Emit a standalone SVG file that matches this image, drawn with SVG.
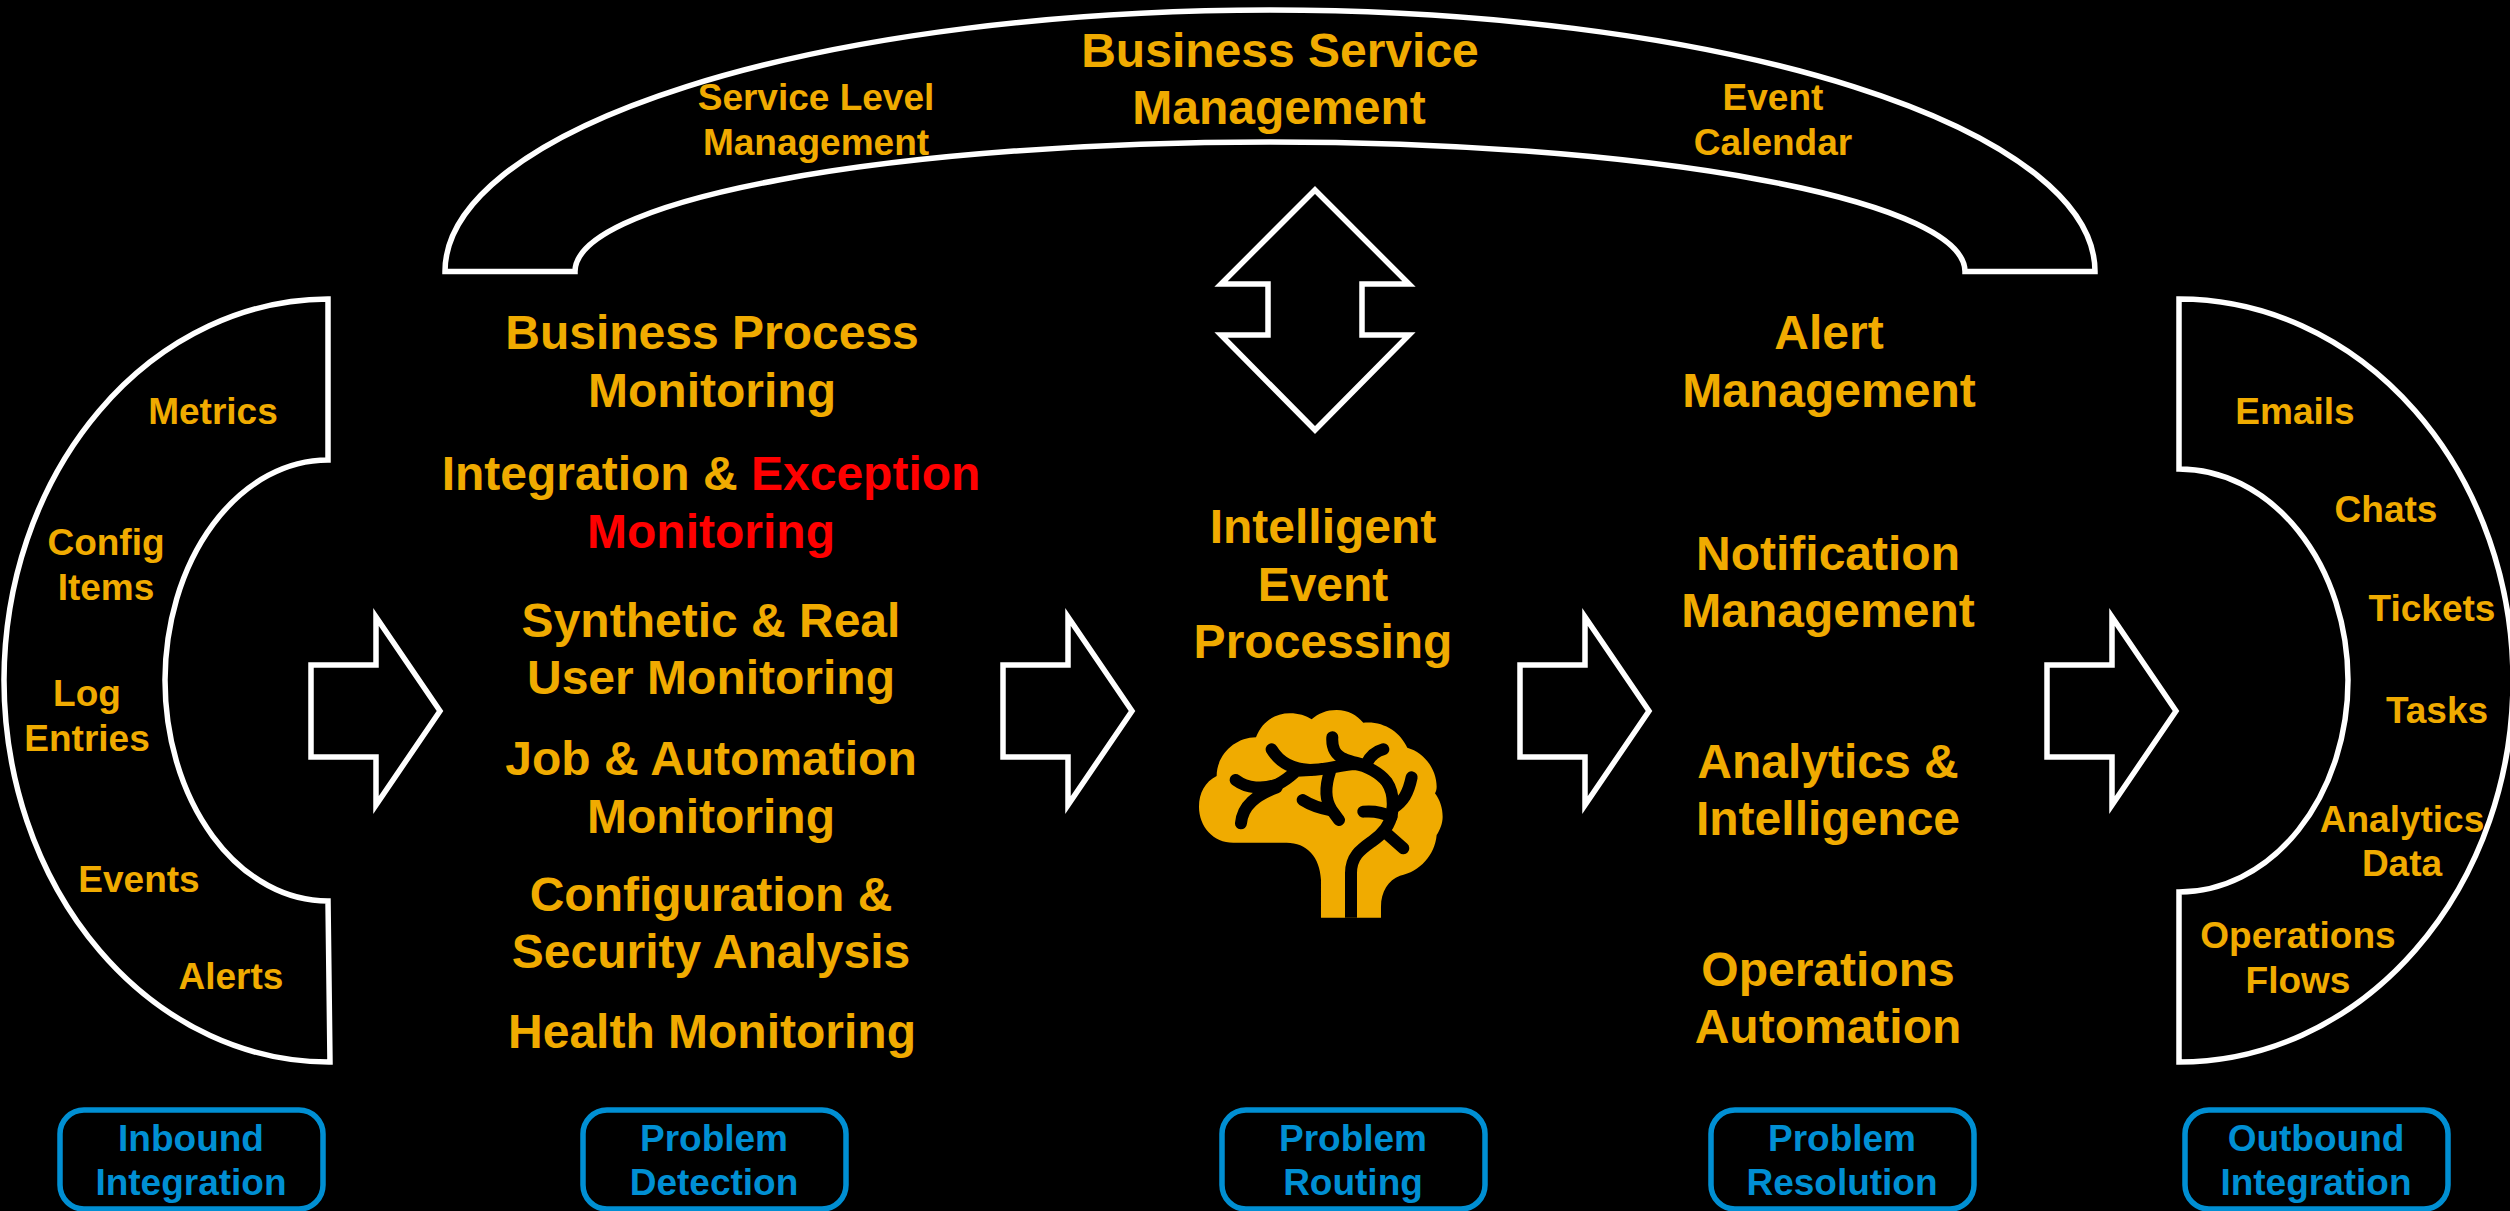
<svg xmlns="http://www.w3.org/2000/svg" width="2510" height="1211" viewBox="0 0 2510 1211">
<style>
text{font-family:"Liberation Sans",Arial,sans-serif;font-weight:700;text-anchor:middle}
.b{font-size:48px;fill:#F0AB00}
.s{font-size:37px;fill:#F0AB00}
.l{font-size:37px;fill:#008FD3}
.r{fill:#FF0000}
.sh{fill:none;stroke:#FFFFFF;stroke-width:5.5}
.box{fill:none;stroke:#008FD3;stroke-width:5.5}
.v{fill:none;stroke:#000000;stroke-width:36;stroke-linecap:round;stroke-linejoin:round}
</style>
<defs>
<path id="arrow" class="sh" d="M0 -46H65V-94L129 0L65 94V46H0Z"/>
</defs>
<rect width="2510" height="1211" fill="#000000"/>
<g id="connectors">
<use href="#arrow" x="311" y="711"/>
<use href="#arrow" x="1003" y="711"/>
<use href="#arrow" x="1520" y="711"/>
<use href="#arrow" x="2047" y="711"/>
<path class="sh" d="M1315 190L1409 284H1362V335H1409L1315 430L1221 335H1268V284H1221Z"/>
</g>
<g id="inbound">
<path class="sh" d="M328 299A325 382 0 0 0 4 680A325 382 0 0 0 330 1062L328 901A163 221 0 0 1 165 680A163 221 0 0 1 328 460Z"/>
<text class="s" x="213" y="424">Metrics</text>
<text class="s" x="106" y="555">Config</text>
<text class="s" x="106" y="600">Items</text>
<text class="s" x="87" y="706">Log</text>
<text class="s" x="87" y="751">Entries</text>
<text class="s" x="139" y="892">Events</text>
<text class="s" x="231" y="989">Alerts</text>
</g>
<g id="business-service">
<path class="sh" d="M445 271.500A825 261.500 0 0 1 2095 271.500H1965A695 129.500 0 0 0 575 271.500Z"/>
<text class="b" x="1280" y="67">Business Service</text>
<text class="b" x="1279" y="124">Management</text>
<text class="s" x="816" y="110">Service Level</text>
<text class="s" x="816" y="155">Management</text>
<text class="s" x="1773" y="110">Event</text>
<text class="s" x="1773" y="155">Calendar</text>
</g>
<g id="detection">
<text class="b" x="712" y="349">Business Process</text>
<text class="b" x="712" y="407">Monitoring</text>
<text class="b" x="711" y="490">Integration &amp; <tspan class="r">Exception</tspan></text>
<text class="b r" x="711" y="548">Monitoring</text>
<text class="b" x="711" y="637">Synthetic &amp; Real</text>
<text class="b" x="711" y="694">User Monitoring</text>
<text class="b" x="711" y="775">Job &amp; Automation</text>
<text class="b" x="711" y="833">Monitoring</text>
<text class="b" x="711" y="911">Configuration &amp;</text>
<text class="b" x="711" y="968">Security Analysis</text>
<text class="b" x="712" y="1048">Health Monitoring</text>
</g>
<g id="routing">
<text class="b" x="1323" y="543">Intelligent</text>
<text class="b" x="1323" y="601">Event</text>
<text class="b" x="1323" y="658">Processing</text>
<g id="brain" transform="translate(1150 680) scale(.3333)">
<path fill="#F0AB00" d="M513 713V600C510 530 470 488 410 488H250C190 488 147 440 147 380C147 340 165 305 200 288C200 225 255 172 318 172C335 125 375 100 420 100C445 100 468 107 485 118C505 100 530 90 560 90C595 90 620 105 640 128C700 122 750 155 772 203C825 218 860 270 860 320C860 328 858 335 855 340C870 360 878 385 878 410C878 430 870 450 860 465C855 525 810 575 750 587C715 600 693 635 693 680V713Z"/>
<clipPath id="stem"><rect x="100" y="50" width="820" height="663"/></clipPath>
<g clip-path="url(#stem)">
<path class="v" d="M365 208C390 250 430 268 480 270C530 270 575 254 615 252C650 256 690 280 710 305C730 335 730 375 726 400C720 440 695 465 665 485C630 510 603 530 603 580V740"/>
<path class="v" d="M547 172C545 205 555 225 585 238C605 245 625 250 640 255"/>
<path class="v" d="M700 208C675 215 660 230 650 250"/>
<path class="v" d="M785 292C775 340 760 365 728 385"/>
<path class="v" d="M640 395C670 392 700 398 725 410"/>
<path class="v" d="M715 465L760 505"/>
<path class="v" d="M257 300C290 325 340 330 385 312C410 300 425 285 440 272L480 270"/>
<path class="v" d="M273 430C278 375 320 345 380 322"/>
<path class="v" d="M540 275C525 320 525 360 545 390L567 420"/>
<path class="v" d="M458 360C485 377 510 385 540 390"/>
</g>
</g>
</g>
<g id="resolution">
<text class="b" x="1829" y="349">Alert</text>
<text class="b" x="1829" y="407">Management</text>
<text class="b" x="1828" y="570">Notification</text>
<text class="b" x="1828" y="627">Management</text>
<text class="b" x="1828" y="778">Analytics &amp;</text>
<text class="b" x="1828" y="835">Intelligence</text>
<text class="b" x="1828" y="986">Operations</text>
<text class="b" x="1828" y="1043">Automation</text>
</g>
<g id="outbound">
<path class="sh" d="M2179 299A334 382 0 0 1 2513 680A334 382 0 0 1 2179 1062V892A169 212 0 0 0 2348 680A169 212 0 0 0 2179 469Z"/>
<text class="s" x="2295" y="424">Emails</text>
<text class="s" x="2386" y="522">Chats</text>
<text class="s" x="2432" y="621">Tickets</text>
<text class="s" x="2437" y="723">Tasks</text>
<text class="s" x="2402" y="832">Analytics</text>
<text class="s" x="2402" y="876">Data</text>
<text class="s" x="2298" y="948">Operations</text>
<text class="s" x="2298" y="993">Flows</text>
</g>
<g id="label-inbound"><rect class="box" x="60" y="1110" width="263" height="99" rx="24"/><text class="l" x="191" y="1151">Inbound</text><text class="l" x="191" y="1195">Integration</text></g>
<g id="label-detection"><rect class="box" x="583" y="1110" width="263" height="99" rx="24"/><text class="l" x="714" y="1151">Problem</text><text class="l" x="714" y="1195">Detection</text></g>
<g id="label-routing"><rect class="box" x="1222" y="1110" width="263" height="99" rx="24"/><text class="l" x="1353" y="1151">Problem</text><text class="l" x="1353" y="1195">Routing</text></g>
<g id="label-resolution"><rect class="box" x="1711" y="1110" width="263" height="99" rx="24"/><text class="l" x="1842" y="1151">Problem</text><text class="l" x="1842" y="1195">Resolution</text></g>
<g id="label-outbound"><rect class="box" x="2185" y="1110" width="263" height="99" rx="24"/><text class="l" x="2316" y="1151">Outbound</text><text class="l" x="2316" y="1195">Integration</text></g>
</svg>
